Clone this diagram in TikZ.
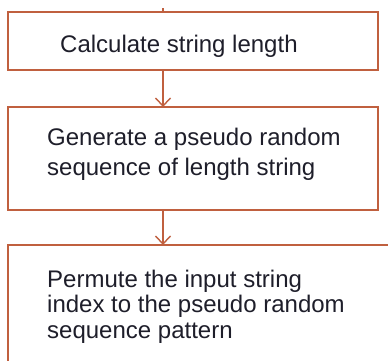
\documentclass[tikz,border=0pt]{standalone}
\usepackage{fontspec}
\setmainfont{Liberation Sans}
\usetikzlibrary{arrows.meta}
\definecolor{boxline}{HTML}{C0603F}
\definecolor{txt}{HTML}{1E1E2A}
\begin{document}
\begin{tikzpicture}[x=1pt,y=-1pt,
  boxstyle/.style={draw=boxline,line width=1.8pt},
  conn/.style={draw=boxline,line width=1.4pt,-{Straight Barb[length=8pt,width=15pt,line width=1.4pt]}},
  label/.style={anchor=base west,inner sep=0pt,text=txt,font=\fontsize{24}{28}\selectfont}]
\useasboundingbox (0,0) rectangle (388,360);
\fill[white] (0,0) rectangle (388,360);
% boxes
\draw[boxstyle] (8,12) rectangle (378,70);
\coordinate (b1top) at (163,12);
\coordinate (b1bot) at (163,70);
\draw[boxstyle] (8,107) rectangle (378,210);
\coordinate (b2top) at (163,107);
\coordinate (b2bot) at (163,210);
\draw[boxstyle] (8,365) -- (8,245) -- (392,245);
\coordinate (b3top) at (163,245);
\coordinate (stub) at (163,8);
% texts
\node[label] (t1) at (60,52) {Calculate string length};
\node[label] (t2a) at (47,145) {Generate a pseudo random};
\node[label] (t2b) at (47,175) {sequence of length string};
\node[label] (t3a) at (47,287) {Permute the input string};
\node[label] (t3b) at (47,312.5) {index to the pseudo random};
\node[label] (t3c) at (47,338) {sequence pattern};
% connectors
\draw[draw=boxline,line width=1.4pt] (stub) -- (b1top);
\draw[conn] (b1bot) -- (b2top);
\draw[conn] (b2bot) -- (b3top);
\end{tikzpicture}
\end{document}
